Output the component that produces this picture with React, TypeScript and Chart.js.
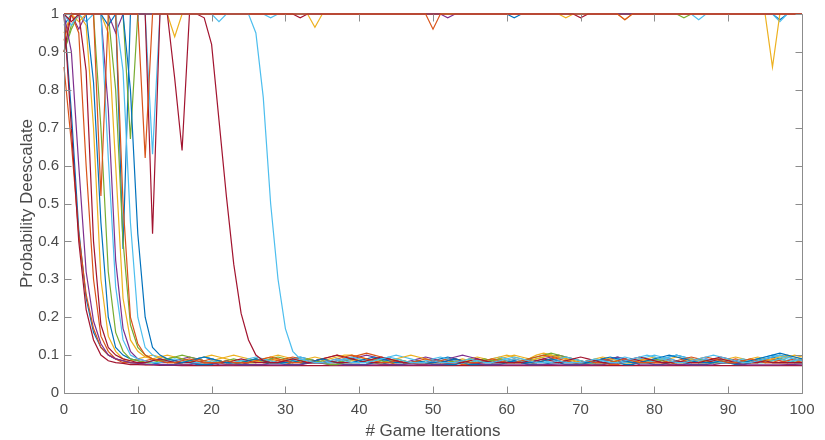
import React, { useEffect, useRef } from "react";
import { Chart, registerables } from "chart.js";

Chart.register(...registerables);

// x-axis: game iterations 0..100
const iterations: number[] = Array.from({ length: 101 }, (_, i) => i);
const xTickValues = [0, 10, 20, 30, 40, 50, 60, 70, 80, 90, 100];
const yTickValues = [0, 0.1, 0.2, 0.3, 0.4, 0.5, 0.6, 0.7, 0.8, 0.9, 1];

// MATLAB default colour order
const palette = ["#0072BD", "#D95319", "#EDB120", "#7E2F8E", "#77AC30", "#4DBEEE", "#A2142F"];

// ---------- series that fall to the low level ----------
const f1 = [1,.74,.43,.25,.16,.12,.1,.09,.085,.08,
.08,.08,.085,.09,.085,.08,.08,.085,.09,.095,
.09,.085,.08,.08,.08,.085,.09,.085,.08,.08,
.085,.09,.095,.09,.085,.08,.08,.08,.085,.09,
.085,.08,.08,.085,.09,.085,.08,.08,.08,.08,
.085,.09,.095,.09,.085,.08,.08,.08,.08,.085,
.08,.08,.085,.09,.085,.08,.08,.08,.085,.08,
.08,.08,.08,.085,.09,.095,.09,.085,.08,.08,
.085,.09,.095,.1,.095,.09,.085,.08,.08,.08,
.08,.085,.08,.08,.085,.09,.095,.1,.095,.09,
.085];
const f2 = [.86,.66,.42,.26,.17,.12,.1,.09,.08,.08,
.08,.075,.075,.08,.085,.08,.075,.075,.08,.085,
.09,.085,.08,.075,.075,.08,.08,.085,.09,.085,
.08,.075,.075,.08,.085,.09,.095,.1,.095,.09,
.085,.08,.08,.075,.075,.08,.085,.08,.075,.075,
.08,.08,.085,.08,.075,.075,.08,.08,.085,.09,
.085,.08,.08,.075,.08,.085,.09,.085,.08,.08,
.075,.075,.08,.08,.075,.075,.08,.085,.09,.085,
.08,.08,.075,.08,.085,.08,.08,.085,.09,.09,
.085,.08,.075,.08,.085,.09,.085,.08,.08,.085,
.09];
const f3 = [.95,1,1,.97,.7,.3,.15,.11,.09,.085,
.09,.095,.1,.095,.09,.085,.08,.085,.09,.095,
.1,.095,.09,.085,.08,.08,.085,.09,.095,.1,
.095,.09,.085,.08,.08,.085,.09,.095,.1,.1,
.095,.09,.085,.08,.085,.09,.085,.08,.08,.085,
.09,.085,.08,.08,.085,.09,.095,.09,.085,.09,
.095,.1,.095,.09,.1,.105,.1,.095,.09,.085,
.08,.08,.085,.09,.085,.08,.08,.085,.09,.085,
.08,.085,.09,.095,.09,.085,.08,.08,.085,.09,
.085,.08,.085,.09,.095,.09,.085,.09,.095,.1,
.095];
const f4 = [1,1,.96,1,1,1,.75,.35,.17,.11,
.09,.085,.08,.08,.08,.085,.09,.095,.09,.085,
.08,.08,.08,.075,.075,.08,.085,.09,.085,.08,
.08,.08,.085,.09,.085,.08,.08,.08,.085,.09,
.095,.1,.095,.09,.085,.08,.08,.085,.09,.095,
.09,.085,.09,.095,.1,.095,.09,.085,.08,.08,
.08,.085,.08,.08,.085,.09,.095,.1,.095,.09,
.085,.08,.08,.085,.09,.095,.09,.085,.08,.08,
.08,.085,.09,.085,.08,.08,.085,.09,.085,.08,
.08,.08,.085,.08,.08,.085,.09,.085,.08,.08,
.08];
const f5 = [.9,.97,1,1,1,1,1,.8,.4,.18,
.12,.1,.09,.085,.09,.095,.1,.095,.09,.085,
.08,.08,.085,.09,.085,.08,.08,.085,.09,.095,
.09,.085,.08,.08,.08,.085,.08,.08,.085,.09,
.085,.08,.08,.08,.085,.09,.085,.08,.08,.08,
.08,.085,.08,.08,.085,.09,.085,.08,.085,.09,
.085,.08,.08,.085,.09,.095,.1,.095,.09,.085,
.08,.08,.075,.075,.08,.08,.085,.08,.08,.08,
.085,.09,.085,.08,.08,.085,.08,.08,.08,.085,
.08,.08,.08,.085,.09,.085,.08,.08,.08,.085,
.08];
const f6 = [1,1,1,.98,1,1,1,1,.85,.45,
.2,.12,.1,.09,.085,.08,.08,.085,.09,.095,
.09,.085,.08,.08,.085,.09,.085,.08,.08,.08,
.085,.09,.095,.09,.085,.08,.08,.085,.09,.085,
.08,.08,.085,.09,.095,.1,.095,.09,.085,.08,
.08,.085,.09,.085,.08,.08,.08,.085,.09,.095,
.09,.085,.08,.08,.08,.085,.08,.08,.085,.09,
.085,.08,.08,.08,.085,.09,.095,.09,.085,.08,
.085,.09,.095,.1,.095,.09,.085,.08,.085,.09,
.085,.08,.08,.085,.09,.095,.1,.095,.09,.085,
.09];
const f7 = [1,.7,.4,.22,.14,.1,.085,.08,.078,.075,
.075,.074,.074,.073,.073,.073,.072,.072,.072,.072,
.072,.072,.072,.072,.072,.072,.072,.072,.072,.072,
.072,.072,.072,.072,.072,.072,.072,.072,.072,.072,
.072,.072,.072,.072,.072,.072,.072,.072,.072,.072,
.072,.072,.072,.072,.072,.072,.072,.072,.072,.072,
.072,.072,.072,.072,.072,.072,.072,.072,.072,.072,
.072,.072,.072,.072,.072,.072,.072,.072,.072,.072,
.072,.072,.072,.072,.072,.072,.072,.072,.072,.072,
.072,.072,.072,.072,.072,.072,.072,.072,.072,.072,
.072];
const f8 = [1,1,1,1,.82,.45,.2,.12,.1,.09,
.085,.08,.08,.075,.075,.075,.08,.08,.075,.075,
.075,.08,.085,.08,.075,.075,.075,.075,.08,.08,
.075,.075,.075,.08,.085,.09,.085,.08,.075,.075,
.075,.075,.08,.08,.075,.075,.075,.08,.085,.08,
.075,.075,.075,.075,.08,.075,.075,.075,.075,.075,
.08,.085,.08,.075,.075,.075,.08,.08,.075,.075,
.075,.08,.085,.09,.085,.08,.075,.075,.08,.08,
.075,.075,.08,.085,.08,.075,.075,.075,.08,.085,
.08,.075,.075,.08,.085,.09,.095,.09,.085,.08,
.08];
const f9 = [.93,1,.95,.6,.3,.15,.11,.09,.085,.08,
.08,.085,.09,.085,.08,.08,.08,.085,.09,.085,
.08,.08,.075,.075,.08,.08,.085,.08,.08,.085,
.09,.095,.09,.085,.08,.08,.08,.085,.09,.095,
.1,.105,.1,.095,.09,.085,.08,.08,.085,.08,
.08,.085,.09,.085,.08,.08,.08,.085,.08,.08,
.085,.09,.085,.08,.08,.085,.09,.095,.09,.085,
.08,.08,.085,.09,.085,.08,.08,.08,.085,.09,
.085,.08,.08,.085,.09,.095,.09,.085,.08,.08,
.085,.09,.085,.08,.08,.085,.09,.085,.08,.08,
.085];
const f10 = [1,1,.98,1,1,1,.95,.6,.25,.14,
.11,.095,.09,.095,.1,.095,.09,.085,.08,.08,
.085,.09,.095,.1,.095,.09,.085,.08,.085,.09,
.085,.08,.085,.09,.095,.09,.085,.08,.08,.085,
.09,.085,.08,.08,.085,.09,.095,.1,.095,.09,
.085,.08,.08,.085,.09,.085,.08,.085,.09,.095,
.1,.095,.09,.085,.09,.095,.1,.095,.09,.085,
.08,.085,.09,.095,.09,.085,.08,.08,.085,.09,
.095,.09,.085,.08,.085,.09,.085,.08,.08,.085,
.09,.095,.09,.085,.08,.085,.09,.095,.1,.095,
.09];
const f11 = [1,.9,.6,.32,.19,.13,.1,.09,.085,.08,
.078,.076,.075,.075,.074,.074,.074,.075,.078,.08,
.078,.075,.074,.074,.074,.074,.075,.075,.074,.074,
.074,.074,.075,.078,.08,.078,.075,.074,.074,.074,
.074,.074,.074,.074,.075,.075,.074,.074,.074,.074,
.074,.075,.078,.08,.082,.08,.078,.075,.074,.074,
.074,.074,.074,.074,.074,.075,.075,.074,.074,.074,
.074,.074,.074,.075,.078,.08,.085,.08,.075,.074,
.074,.074,.074,.075,.075,.074,.074,.074,.075,.078,
.08,.078,.075,.074,.074,.074,.074,.074,.075,.075,
.074];
const f12 = [1,1,1,1,1,.7,.32,.16,.11,.09,
.085,.08,.08,.085,.09,.095,.09,.085,.08,.08,
.08,.085,.08,.08,.08,.085,.09,.085,.08,.08,
.08,.08,.085,.09,.085,.08,.075,.075,.08,.08,
.08,.085,.09,.085,.08,.08,.08,.08,.085,.08,
.08,.08,.08,.085,.08,.08,.085,.09,.085,.08,
.08,.08,.085,.09,.095,.1,.105,.1,.095,.09,
.085,.08,.08,.08,.08,.085,.08,.08,.08,.085,
.09,.085,.08,.08,.08,.085,.09,.085,.08,.08,
.08,.08,.085,.08,.08,.08,.085,.09,.085,.08,
.08];
const f13 = [1,.97,1,1,1,1,.62,.28,.14,.1,
.09,.085,.08,.08,.085,.09,.085,.08,.08,.08,
.085,.08,.08,.08,.085,.09,.095,.09,.085,.08,
.08,.085,.09,.085,.08,.08,.08,.085,.09,.095,
.09,.085,.08,.08,.08,.085,.08,.08,.08,.085,
.09,.095,.09,.085,.08,.08,.085,.08,.08,.08,
.085,.09,.085,.08,.08,.08,.085,.09,.095,.09,
.085,.08,.08,.085,.08,.08,.08,.085,.09,.095,
.1,.095,.09,.085,.08,.08,.085,.09,.085,.08,
.08,.085,.09,.085,.08,.08,.085,.09,.085,.08,
.08];
const f14 = [1,.98,1,.85,.4,.18,.12,.1,.09,.085,
.08,.08,.085,.09,.085,.08,.08,.08,.085,.08,
.08,.08,.08,.085,.09,.085,.08,.08,.08,.08,
.085,.08,.08,.08,.085,.09,.095,.1,.095,.09,
.085,.08,.08,.08,.08,.085,.08,.08,.08,.08,
.08,.08,.085,.09,.085,.08,.08,.08,.08,.085,
.08,.08,.08,.08,.085,.09,.085,.08,.08,.08,
.08,.085,.08,.08,.08,.08,.085,.09,.085,.08,
.08,.08,.08,.085,.08,.08,.08,.08,.085,.09,
.085,.08,.08,.08,.085,.08,.08,.08,.08,.08,
.08];
const f15 = [1,1,1,1,1,1,.97,1,1,.8,
.42,.2,.12,.1,.09,.085,.08,.085,.09,.095,
.09,.085,.08,.08,.08,.085,.09,.085,.08,.08,
.08,.085,.08,.08,.085,.09,.085,.08,.08,.08,
.085,.09,.095,.09,.085,.08,.08,.08,.085,.08,
.08,.08,.085,.09,.085,.08,.08,.085,.08,.08,
.08,.085,.08,.08,.08,.085,.09,.085,.08,.08,
.08,.08,.085,.09,.095,.09,.085,.08,.08,.085,
.09,.095,.1,.095,.09,.085,.08,.08,.08,.085,
.08,.08,.08,.085,.09,.095,.1,.105,.1,.095,
.09];
const f16 = [1,1,1,1,1,.52,1,1,.5,.2,
.13,.1,.09,.085,.08,.08,.085,.09,.085,.08,
.08,.08,.085,.08,.08,.08,.085,.09,.095,.09,
.085,.08,.08,.085,.08,.08,.085,.09,.095,.1,
.095,.09,.085,.08,.08,.085,.08,.08,.085,.09,
.085,.08,.08,.08,.085,.08,.08,.085,.09,.085,
.08,.08,.085,.09,.095,.1,.095,.09,.085,.08,
.08,.085,.08,.08,.08,.085,.09,.085,.08,.08,
.08,.08,.085,.08,.08,.085,.09,.095,.09,.085,
.08,.08,.085,.09,.085,.08,.08,.08,.085,.09,
.085];

// ---------- late fallers ----------
const late1 = [.9,1,1,1,1,1,1,1,1,1,
1,1,.42,1,1,.83,.64,1,1,.99,
.92,.72,.52,.34,.21,.14,.1,.085,.08,.08,
.085,.09,.085,.08,.08,.08,.085,.08,.08,.08,
.08,.085,.09,.095,.09,.085,.08,.08,.08,.08,
.085,.08,.08,.08,.08,.085,.09,.085,.08,.08,
.08,.08,.08,.085,.08,.08,.08,.08,.085,.09,
.095,.09,.085,.08,.08,.08,.085,.09,.095,.09,
.085,.08,.08,.08,.085,.08,.08,.085,.09,.095,
.09,.085,.08,.08,.08,.085,.08,.08,.08,.08,
.08];
const late2 = [1,1,1,1,1,1,1,1,1,1,
1,1,1,1,1,1,1,1,1,1,
1,.98,1,1,1,1,.95,.78,.5,.3,
.17,.11,.09,.085,.08,.08,.085,.09,.085,.08,
.08,.08,.085,.09,.095,.09,.085,.08,.08,.08,
.085,.08,.08,.08,.085,.09,.085,.08,.08,.085,
.09,.095,.09,.085,.08,.08,.08,.085,.08,.08,
.08,.085,.09,.085,.08,.08,.085,.09,.095,.1,
.095,.09,.085,.08,.08,.085,.09,.095,.1,.095,
.09,.085,.08,.08,.085,.09,.095,.1,.095,.09,
.085];

// ---------- series that stay near 1 ----------
const t1 = [.97,1,1,1,1,1,1,1,.38,1,
1,1,1,1,1,1,1,1,1,1,
1,1,1,1,1,1,1,1,1,1,
1,1,1,1,1,1,1,1,1,1,
1,1,1,1,1,1,1,1,1,1,
1,1,1,1,1,1,1,1,1,1,
1,.99,1,1,1,1,1,1,1,1,
1,1,1,1,1,1,1,1,1,1,
1,1,1,1,1,1,1,1,1,1,
1,1,1,1,1,1,1,.985,1,1,
1];
const t2 = [.9,.96,1,1,1,1,1,1,1,.67,
1,1,1,1,1,1,1,1,1,1,
1,1,1,1,1,1,1,1,1,1,
1,1,1,1,1,1,1,1,1,1,
1,1,1,1,1,1,1,1,1,1,
1,1,1,1,1,1,1,1,1,1,
1,1,1,1,1,1,1,1,1,1,
1,1,1,1,1,1,1,1,1,1,
1,1,1,1,.99,1,1,1,1,1,
1,1,1,1,1,1,1,1,1,1,
1];
const t3 = [1,1,1,1,1,1,1,1,1,1,
1,.62,1,1,1,1,1,1,1,1,
1,1,1,1,1,1,1,1,1,1,
1,1,1,1,1,1,1,1,1,1,
1,1,1,1,1,1,1,1,1,1,
.96,1,1,1,1,1,1,1,1,1,
1,1,1,1,1,1,1,1,1,1,
1,1,1,1,1,1,.985,1,1,1,
1,1,1,1,1,1,1,1,1,1,
1,1,1,1,1,1,1,1,1,1,
1];
const t4 = [1,1,1,1,1,1,1,1,1,1,
1,1,.63,1,1,1,1,1,1,1,
1,1,1,1,1,1,1,1,.99,1,
1,1,1,1,1,1,1,1,1,1,
1,1,1,1,1,1,1,1,1,1,
1,1,1,1,1,1,1,1,1,1,
1,1,1,1,1,1,1,1,1,1,
1,1,1,1,1,1,1,1,1,1,
1,1,1,1,1,1,.985,1,1,1,
1,1,1,1,1,1,1,.98,1,1,
1];
const t5 = [1,1,1,1,1,1,1,1,1,1,
1,1,1,1,1,.94,1,1,1,1,
1,1,1,1,1,1,1,1,1,1,
1,1,1,1,.965,1,1,1,1,1,
1,1,1,1,1,1,1,1,1,1,
1,1,1,1,1,1,1,1,1,1,
1,1,1,1,1,1,1,1,.99,1,
1,1,1,1,1,1,.985,1,1,1,
1,1,1,1,1,1,1,1,1,1,
1,1,1,1,1,1,.86,1,1,1,
1];
const t6 = [1,1,1,1,1,1,1,.95,1,1,
1,1,1,1,1,1,1,1,1,1,
1,1,1,1,1,1,1,1,1,1,
1,1,1,1,1,1,1,1,1,1,
1,1,1,1,1,1,1,1,1,1,
1,1,.99,1,1,1,1,1,1,1,
1,1,1,1,1,1,1,1,1,1,
1,1,1,1,1,1,1,1,1,1,
1,1,1,1,1,1,1,1,1,1,
1,1,1,1,1,1,1,1,1,1,
1];
const t7 = [1,1,1,1,1,1,1,1,1,1,
1,1,1,1,1,1,1,1,1,1,
1,1,1,1,1,1,1,1,1,1,
1,1,.99,1,1,1,1,1,1,1,
1,1,1,1,1,1,1,1,1,1,
1,1,1,1,1,1,1,1,1,1,
1,1,1,1,1,1,1,1,1,1,
.99,1,1,1,1,1,1,1,1,1,
1,1,1,1,1,1,1,1,1,1,
1,1,1,1,1,1,1,1,1,1,
1];

// drawing order: later entries are painted on top (MATLAB-like)
const seriesList: number[][] = [
  t1, t2, t4, t5, t6,
  f1, f2, f3, f4, f5, f6, f7,
  f8, f9, f10, f11, f12, f13, f14,
  f15, f16, late1, late2,
  t7, t3,
];
const seriesColors: string[] = [
  palette[0], palette[4], palette[5], palette[2], palette[3],
  palette[0], palette[1], palette[2], palette[3], palette[4], palette[5], palette[6],
  palette[0], palette[1], palette[2], palette[3], palette[4], palette[5], palette[6],
  palette[0], palette[1], palette[6], palette[5],
  palette[6], palette[1],
];

const AXIS_COLOR = "#8c8c8c";
const TEXT_COLOR = "#4a4a4a";
const FONT = "'Liberation Sans', Arial, Helvetica, sans-serif";

const boxTicks = {
  id: "boxTicks",
  afterDatasetsDraw(chart: any) {
    const { ctx, chartArea: a, scales } = chart;
    ctx.save();
    ctx.strokeStyle = AXIS_COLOR;
    ctx.lineWidth = 1;
    const L = Math.round(a.left) + 0.5;
    const R = Math.round(a.right) + 0.5;
    const T = Math.round(a.top) + 0.5;
    const B = Math.round(a.bottom) + 0.5;
    ctx.beginPath();
    ctx.moveTo(L, T);
    ctx.lineTo(L, B);
    ctx.lineTo(R, B);
    ctx.lineTo(R, T);
    ctx.stroke();
    const len = 7;
    ctx.beginPath();
    xTickValues.forEach((v) => {
      const px = Math.round(scales.x.getPixelForValue(v)) + 0.5;
      ctx.moveTo(px, B);
      ctx.lineTo(px, B - len);
      ctx.moveTo(px, T);
      ctx.lineTo(px, T + len);
    });
    yTickValues.forEach((v) => {
      const py = Math.round(scales.y.getPixelForValue(v)) + 0.5;
      ctx.moveTo(L, py);
      ctx.lineTo(L + len, py);
      ctx.moveTo(R, py);
      ctx.lineTo(R - len, py);
    });
    ctx.stroke();
    ctx.restore();
  },
};

export default function App() {
  const ref = useRef<HTMLCanvasElement | null>(null);

  useEffect(() => {
    if (!ref.current) return;
    const n = seriesList.length;
    const chart = new Chart(ref.current, {
      type: "line",
      data: {
        labels: iterations,
        datasets: seriesList.map((s, i) => ({
          data: s,
          borderColor: seriesColors[i],
          backgroundColor: seriesColors[i],
          borderWidth: 1.2,
          pointRadius: 0,
          tension: 0,
          fill: false,
          order: n - i,
          clip: { left: 1, top: 2, right: 1, bottom: 1 },
        })),
      },
      options: {
        animation: false,
        responsive: true,
        maintainAspectRatio: false,
        layout: { padding: { top: 9, right: 23, left: 0, bottom: 0 } },
        plugins: {
          legend: { display: false },
          tooltip: { enabled: false },
        },
        scales: {
          x: {
            type: "linear",
            min: 0,
            max: 100,
            afterFit: (s: any) => {
              s.height = 47;
            },
            grid: { display: false, drawTicks: false },
            border: { display: false },
            ticks: {
              stepSize: 10,
              padding: 8,
              color: TEXT_COLOR,
              font: { family: FONT, size: 15 },
              maxRotation: 0,
            },
            title: {
              display: true,
              text: "# Game Iterations",
              color: TEXT_COLOR,
              font: { family: FONT, size: 17 },
              padding: { top: 0, bottom: -2 },
            },
          },
          y: {
            type: "linear",
            min: 0,
            max: 1,
            afterFit: (s: any) => {
              s.width = 64;
            },
            grid: { display: false, drawTicks: false },
            border: { display: false },
            ticks: {
              stepSize: 0.1,
              padding: 5,
              color: TEXT_COLOR,
              font: { family: FONT, size: 15 },
              callback: (v: any) => String(Math.round(Number(v) * 10) / 10),
            },
            title: {
              display: true,
              text: "Probability Deescalate",
              color: TEXT_COLOR,
              font: { family: FONT, size: 17 },
              padding: { top: 17, bottom: 0 },
            },
          },
        },
      },
      plugins: [boxTicks],
    });
    return () => chart.destroy();
  }, []);

  return (
    <div style={{ position: "fixed", left: 0, top: 0, width: 825, height: 440, background: "#fff" }}>
      <canvas ref={ref} />
    </div>
  );
}
